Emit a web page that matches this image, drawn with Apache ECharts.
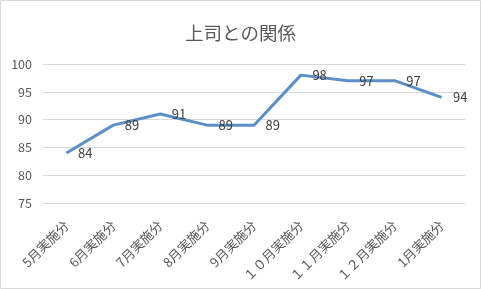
<!DOCTYPE html>
<html><head><meta charset="utf-8">
<script src="https://cdn.jsdelivr.net/npm/echarts@6/dist/echarts.min.js"></script>
<style>html,body{margin:0;padding:0;background:#fff}#c{width:481px;height:289px}</style>
</head><body><div id="c"></div>
<script>
const title = "上司との関係";
const categories = ["5月実施分","6月実施分","7月実施分","8月実施分","9月実施分","１０月実施分","１１月実施分","１２月実施分","1月実施分"];
const values = [84, 89, 91, 89, 89, 98, 97, 97, 94];
const yTicks = {min: 75, max: 100, interval: 5};

const font = '"Noto Sans CJK JP", "Noto Sans", sans-serif';
const chart = echarts.init(document.getElementById('c'), null, {renderer: 'canvas'});
chart.setOption({
  animation: false,
  backgroundColor: '#fff',
  title: {text: title, left: 'center', top: 19, textStyle: {fontFamily: font, fontSize: 18.5, fontWeight: 'normal', color: '#595959'}},
  grid: {left: 43, right: 16, top: 64, bottom: 86, containLabel: false},
  xAxis: {
    type: 'category', data: categories, boundaryGap: true,
    axisLine: {show: false}, axisTick: {show: false},
    axisLabel: {rotate: 45, fontFamily: font, fontSize: 13, color: '#595959', margin: 20, interval: 0}
  },
  yAxis: {
    type: 'value', min: yTicks.min, max: yTicks.max, interval: yTicks.interval,
    axisLine: {show: false}, axisTick: {show: false},
    axisLabel: {fontFamily: font, fontSize: 12.5, color: '#595959', margin: 11},
    splitLine: {lineStyle: {color: '#d9d9d9', width: 1}}
  },
  series: [{
    type: 'line', data: values, symbol: 'circle', symbolSize: 1, showSymbol: true,
    itemStyle: {color: 'rgba(0,0,0,0)'},
    lineStyle: {color: '#5b8fc7', width: 3},
    labelLayout: {hideOverlap: false},
    label: {show: true, position: 'right', distance: 11, fontFamily: font, fontSize: 13, color: '#404040'}
  }],
  graphic: [{type: 'rect', shape: {x: 0.5, y: 0.5, width: 480, height: 288}, style: {fill: 'none', stroke: '#d9d9d9', lineWidth: 1}}]
});
</script></body></html>
